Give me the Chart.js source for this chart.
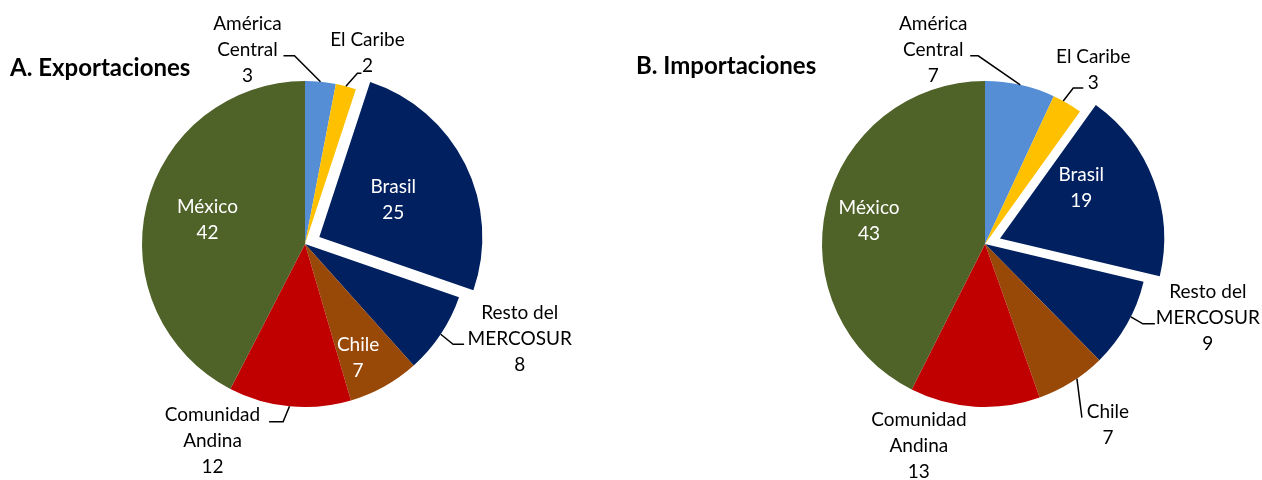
<!DOCTYPE html>
<html>
<head>
<meta charset="utf-8">
<script src="https://cdn.jsdelivr.net/npm/chart.js@4.4.1/dist/chart.umd.min.js"></script>
<style>
  html, body { margin: 0; padding: 0; background: #fff; }
  #wrap { position: relative; width: 1262px; height: 480px; overflow: hidden; }
  canvas { position: absolute; top: 0; }
  .title { position: absolute; font-family: Lato, "Noto Sans", sans-serif; font-weight: bold; font-size: 24px; color: #000; line-height: 26px; white-space: nowrap; }
</style>
</head>
<body>
<div id="wrap">
  <canvas id="cExp" width="631" height="480" style="left:0"></canvas>
  <canvas id="cImp" width="631" height="480" style="left:631px"></canvas>
  <div class="title" id="tExp" style="left:10px; top:54px;">A. Exportaciones</div>
  <div class="title" id="tImp" style="left:636px; top:52px;">B. Importaciones</div>
</div>
<script>
// ---- data ----
const categories = ['América Central', 'El Caribe', 'Brasil', 'Resto del MERCOSUR', 'Chile', 'Comunidad Andina', 'México'];
const labelLines = [['América', 'Central'], ['El Caribe'], ['Brasil'], ['Resto del', 'MERCOSUR'], ['Chile'], ['Comunidad', 'Andina'], ['México']];
const exportValues = [3, 2, 25, 8, 7, 12, 42];
const importValues = [7, 3, 19, 9, 7, 13, 43];
const sliceColors = ['#558ED5', '#FFC000', '#002060', '#002060', '#984807', '#C00000', '#4F6228'];
const explodedIndex = 2;

// ---- label layout (styles) ----
// inside: {inside:true, t: fraction along slice angle, f: fraction of radius}
// outside: {t, label:[dx,dy], elbow:[dx,dy], end:[dx,dy]} relative to the arc edge point
const expLayout = [
  { t: 0.5, label: [-73, -32], elbow: [-26, -26], end: [-37, -26] },
  { t: 0.5, label: [21.5, -33], elbow: [11.5, -13], end: [15.5, -13] },
  { inside: true, t: 0.5, f: 0.506 },
  { t: 0.5, label: [79, 5], elbow: [12.4, 10], end: [23.4, 10] },
  { inside: true, t: 0.66, f: 0.77 },
  { t: 0.5, label: [-77, 35], elbow: [-6.4, 15.6], end: [-20.4, 15.6] },
  { inside: true, t: 0.5, f: 0.616 }
];
const impLayout = [
  { t: 0.5, label: [-87, -35], elbow: [-42, -29], end: [-50, -29] },
  { t: 0.35, label: [30, -31], elbow: [10, -13], end: [20, -13] },
  { inside: true, t: 0.33, f: 0.58 },
  { t: 0.41, label: [77, 1], elbow: [12, 7], end: [24, 7] },
  { t: 0.41, label: [31, 46], elbow: [5, 39], end: [5, 39] },
  { t: 0.5, label: [-56, 39] },
  { inside: true, t: 0.486, f: 0.725 }
];

const FONT = '19px Lato, "Noto Sans", sans-serif';
const LINE_H = 26;

function makeLabelPlugin(layout) {
  return {
    id: 'sliceLabels',
    afterDatasetsDraw(chart) {
      const ctx = chart.ctx;
      const meta = chart.getDatasetMeta(0);
      const values = chart.data.datasets[0].data;
      ctx.save();
      ctx.font = FONT;
      ctx.textAlign = 'center';
      ctx.textBaseline = 'middle';
      meta.data.forEach((arc, i) => {
        const c = layout[i];
        const p = arc.getProps(['x', 'y', 'startAngle', 'endAngle', 'outerRadius'], true);
        const circ = p.endAngle - p.startAngle;
        const mid = (p.startAngle + p.endAngle) / 2;
        const off = (arc.options.offset || 0) / 4;
        const fix = 1 - Math.sin(Math.min(Math.PI, circ));
        const shift = off + off * fix;
        const cx = p.x + Math.cos(mid) * shift;
        const cy = p.y + Math.sin(mid) * shift;
        const a = p.startAngle + circ * c.t;
        const lines = labelLines[i].concat([String(values[i])]);
        let lx, ly;
        if (c.inside) {
          const r = p.outerRadius * c.f;
          lx = cx + Math.cos(a) * r;
          ly = cy + Math.sin(a) * r;
          ctx.fillStyle = '#FFFFFF';
        } else {
          const ax = cx + Math.cos(a) * p.outerRadius;
          const ay = cy + Math.sin(a) * p.outerRadius;
          if (c.elbow) {
            ctx.beginPath();
            ctx.moveTo(ax, ay);
            ctx.lineTo(ax + c.elbow[0], ay + c.elbow[1]);
            ctx.lineTo(ax + c.end[0], ay + c.end[1]);
            ctx.strokeStyle = '#000';
            ctx.lineWidth = 1.5;
            ctx.stroke();
          }
          lx = ax + c.label[0];
          ly = ay + c.label[1];
          ctx.fillStyle = '#000000';
        }
        const n = lines.length;
        lines.forEach((txt, k) => {
          ctx.fillText(txt, lx, ly + (k - (n - 1) / 2) * LINE_H);
        });
      });
      ctx.restore();
    }
  };
}

function makePie(canvasId, values, layout, padding) {
  return new Chart(document.getElementById(canvasId), {
    type: 'pie',
    data: {
      labels: categories,
      datasets: [{
        data: values,
        backgroundColor: sliceColors,
        borderWidth: 0,
        hoverOffset: 0,
        offset: values.map((v, i) => i === explodedIndex ? 64 : 0)
      }]
    },
    options: {
      responsive: false,
      animation: false,
      events: [],
      radius: 163,
      layout: { padding: padding },
      plugins: { legend: { display: false }, tooltip: { enabled: false }, title: { display: false } }
    },
    plugins: [makeLabelPlugin(layout)]
  });
}

makePie('cExp', exportValues, expLayout, { left: 134, right: 155, top: 73, bottom: 65 });
makePie('cImp', importValues, impLayout, { left: 183, right: 106, top: 73, bottom: 65 });
</script>
</body>
</html>
